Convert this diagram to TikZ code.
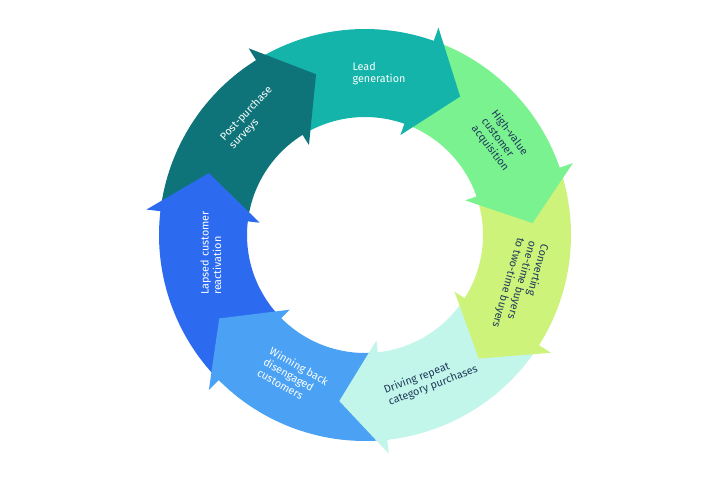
\documentclass[tikz,border=0pt]{standalone}
\usepackage{fontspec}
\setmainfont{Fira Sans}
\definecolor{cPost}{HTML}{0F7479}
\definecolor{cLead}{HTML}{14B4AB}
\definecolor{cHigh}{HTML}{7BF290}
\definecolor{cConv}{HTML}{CDF37B}
\definecolor{cDrive}{HTML}{C3F6EA}
\definecolor{cWin}{HTML}{4BA2F4}
\definecolor{cLapse}{HTML}{2C6BF0}
\definecolor{cDark}{HTML}{1E3A5A}
\begin{document}
\begin{tikzpicture}[x=1pt,y=1pt,
  lbl/.style={font=\fontsize{10.8}{12.5}\selectfont, align=left, inner sep=0pt},
  light/.style={lbl, text=white},
  darktxt/.style={lbl, text=cDark}]
\useasboundingbox (0,0) rectangle (720,480);
\fill[white] (0,0) rectangle (720,480);
\begin{scope}[shift={(365,245)}]
  % bodies: start angle / end angle / colour
  \foreach \a/\b/\c in {121.93/70.5/cLead, 70.5/19.07/cHigh, 19.07/-32.36/cConv,
      -32.36/-83.79/cDrive, -83.79/-135.21/cWin, -135.21/-186.64/cLapse,
      -186.64/-238.07/cPost}{
    \pgfmathsetmacro{\e}{\b-0.8}
    \fill[\c] (\a:206pt) arc[start angle=\a, end angle=\e, radius=206pt]
      -- (\e:118pt) arc[start angle=\e, end angle=\a, radius=118pt] -- cycle;
  }
  % heads: barb angle / colour (with a thin strip back over its own body)
  \foreach \b/\c in {70.5/cLead, 19.07/cHigh, -32.36/cConv, -83.79/cDrive,
      -135.21/cWin, -186.64/cLapse, -238.07/cPost}{
    \pgfmathsetmacro{\t}{\b-15}
    \pgfmathsetmacro{\s}{\b+1}
    \fill[\c] (\b:220pt) -- (\t:168pt) -- (\b:106pt) -- (\b:118.5pt)
      -- (\s:118.5pt) -- (\s:205.5pt) -- (\b:205.5pt) -- cycle;
  }
\end{scope}
\node[light] (lead) at (379,406.5) {Lead\\generation};
\node[light, rotate=46.6] (post) at (251,362) {Post-purchase\\surveys};
\node[darktxt, rotate=-53] (high) at (500,339) {High-value\\customer\\acquisition};
\node[darktxt, rotate=-105.7] (conv) at (520,194) {Converting\\one-time buyers\\to two-time buyers};
\node[darktxt, rotate=20.8] (drive) at (431,100) {Driving repeat\\category purchases};
\node[light, rotate=-29.6] (win) at (293,103) {Winning back\\disengaged\\customers};
\node[light, rotate=90] (lapse) at (211,227) {Lapsed customer\\reactivation};
\end{tikzpicture}
\end{document}
